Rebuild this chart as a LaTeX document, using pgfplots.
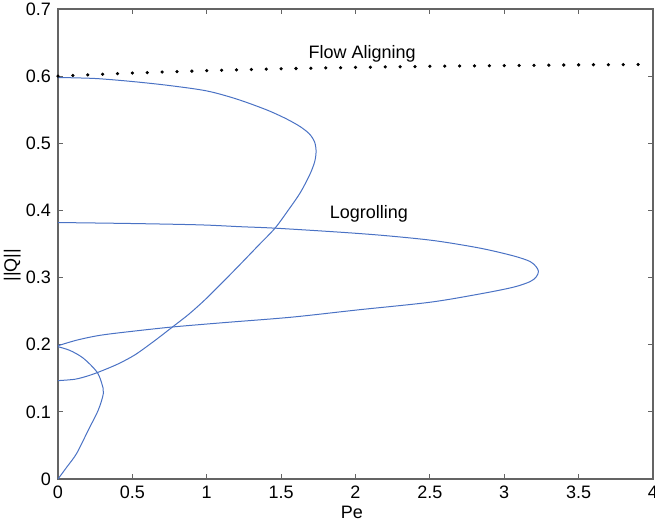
\documentclass[border=0pt]{standalone}
\usepackage{fontspec}
\setmainfont{Liberation Sans}
\usepackage{pgfplots}
\pgfplotsset{compat=1.18}
\definecolor{curveblue}{RGB}{74,114,196}
\definecolor{axgray}{RGB}{100,100,100}
\begin{document}
\begin{tikzpicture}
\begin{axis}[
  scale only axis, width=297.5pt, height=235pt,
  xmin=0, xmax=4, ymin=0, ymax=0.7,
  xtick={0,0.5,1,1.5,2,2.5,3,3.5,4},
  ytick={0,0.1,0.2,0.3,0.4,0.5,0.6,0.7},
  tick align=inside, major tick length=2.5pt,
  axis line style={axgray, line width=0.6pt},
  tick style={axgray, line width=0.5pt},
  font=\fontsize{9}{10}\selectfont,
  /pgf/number format/assume math mode=true,
  /pgf/number format/fixed,
  xlabel={Pe}, ylabel={||Q||},
  xlabel style={at={(axis description cs:0.494,-0.072)}, anchor=center},
  ylabel style={at={(axis description cs:-0.077,0.455)}, anchor=center, rotate=0},
  clip=true,
]
% Flow aligning (dotted)
\addplot[only marks, mark=*, mark size=0.6pt, black] coordinates {
(0,0.6000) (0.1,0.6010) (0.2,0.6020) (0.3,0.6029) (0.4,0.6038) (0.5,0.6046)
(0.6,0.6054) (0.7,0.6061) (0.8,0.6068) (0.9,0.6075) (1.0,0.6081) (1.1,0.6087)
(1.2,0.6093) (1.3,0.6099) (1.4,0.6104) (1.5,0.6109) (1.6,0.6114) (1.7,0.6118)
(1.8,0.6122) (1.9,0.6126) (2.0,0.6130) (2.1,0.6134) (2.2,0.6137) (2.3,0.6140)
(2.4,0.6143) (2.5,0.6146) (2.6,0.6149) (2.7,0.6152) (2.8,0.6154) (2.9,0.6156)
(3.0,0.6158) (3.1,0.6160) (3.2,0.6162) (3.3,0.6164) (3.4,0.6166) (3.5,0.6168)
(3.6,0.6170) (3.7,0.6171) (3.8,0.6172) (3.9,0.6173)
};
% C-shaped branch
\addplot[curveblue, line width=0.5pt, smooth, tension=0.5] coordinates {
(0,0.598) (0.25,0.5965) (0.5,0.592) (0.75,0.586) (1.0,0.578) (1.2,0.566)
(1.4,0.550) (1.53,0.537) (1.627,0.525) (1.69,0.514) (1.725,0.502) (1.735,0.488)
(1.725,0.472) (1.69,0.452) (1.627,0.4258) (1.55,0.401) (1.459,0.3736) (1.35,0.3485)
(1.224,0.3195) (1.1,0.2915) (0.986,0.2665) (0.88,0.2455) (0.773,0.227) (0.65,0.206)
(0.518,0.185) (0.4,0.171) (0.282,0.160) (0.2,0.1535) (0.114,0.1486) (0,0.1465)
};
% Logrolling branch
\addplot[curveblue, line width=0.5pt, smooth, tension=0.5] coordinates {
(0,0.382) (0.5,0.3805) (0.955,0.3785) (1.224,0.3758) (1.459,0.3736) (1.896,0.3676)
(2.2,0.3625) (2.53,0.355) (2.838,0.3438) (3.062,0.3323) (3.174,0.3239) (3.215,0.316)
(3.23,0.309) (3.215,0.301) (3.174,0.294) (3.062,0.2857) (2.838,0.2757) (2.502,0.2633)
(2.017,0.2519) (1.569,0.241) (1.121,0.233) (0.773,0.2265) (0.5,0.2200) (0.282,0.2140)
(0.126,0.2068) (0,0.1985)
};
% small branch
\addplot[curveblue, line width=0.5pt, smooth, tension=0.5] coordinates {
(0,0) (0.06,0.018) (0.126,0.0383) (0.204,0.073) (0.271,0.1028) (0.305,0.1277)
(0.294,0.1426) (0.26,0.160) (0.170,0.180) (0.08,0.1915) (0,0.197)
};
\node[font=\fontsize{9}{10}\selectfont] at (axis cs:2.045,0.633) {Flow Aligning};
\node[font=\fontsize{9}{10}\selectfont] at (axis cs:2.09,0.395) {Logrolling};
\end{axis}
\pgfresetboundingbox
\path (current axis.south west) ++(-29pt,-23.5pt) rectangle ++(327.5pt,263pt);
\end{tikzpicture}
\end{document}
